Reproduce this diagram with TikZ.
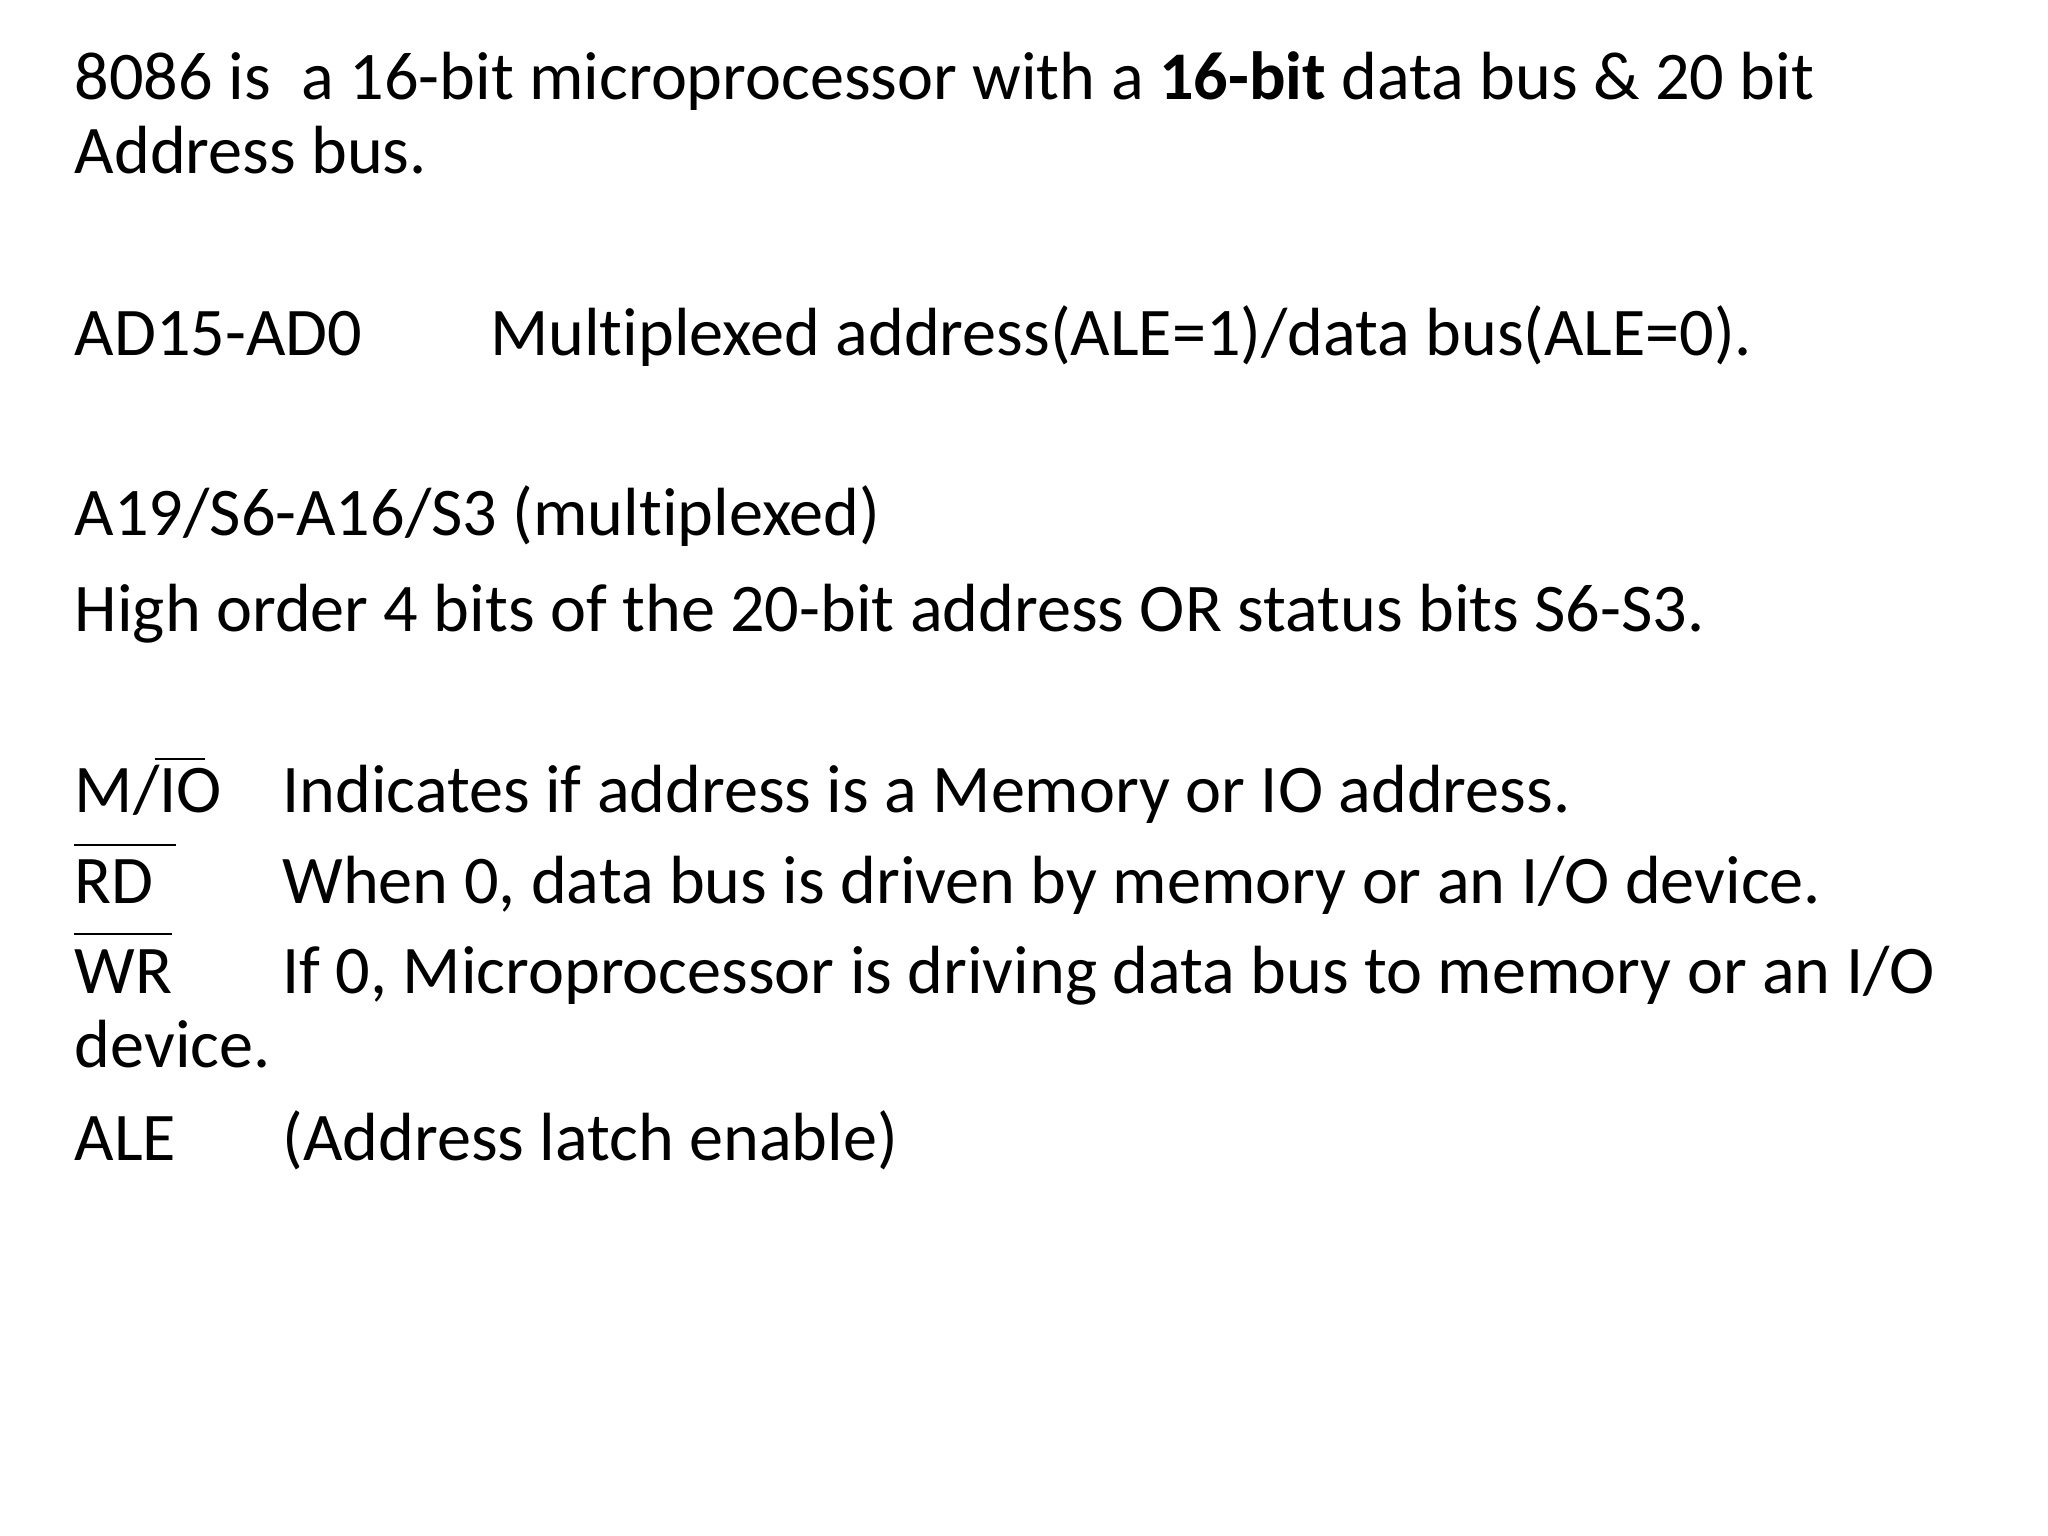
\documentclass[tikz,border=0pt]{standalone}
\usepackage{fontspec}
\setmainfont{Carlito}[RawFeature=-liga]
\begin{document}
\begin{tikzpicture}[x=0.01323cm,y=-0.01323cm,
    txt/.style={anchor=base west,inner sep=0pt,font=\fontsize{19.4}{23}\selectfont},
    bar/.style={line width=0.6pt}]
  \useasboundingbox (0,0) rectangle (1548,1161);
  % heading
  \node[txt] (l1) at (56,75) {8086 is\ \ a 16-bit microprocessor with a \textbf{16-bit} data bus \& 20 bit};
  \node[txt] (l2) at (56,131) {Address bus.};
  % address/data lines
  \node[txt] (ad)  at (56,269) {AD15-AD0};
  \node[txt] (adt) at (370,269) {Multiplexed address(ALE=1)/data bus(ALE=0).};
  \node[txt] (a19) at (56,405) {A19/S6-A16/S3 (multiplexed)};
  \node[txt] (hi)  at (56,477) {High order 4 bits of the 20-bit address OR status bits S6-S3.};
  % control signals
  \node[txt] (mio)  at (56,614) {M/IO};
  \node[txt] (miot) at (213,614) {Indicates if address is a Memory or IO address.};
  \node[txt] (rd)   at (56,683) {RD};
  \node[txt] (rdt)  at (213,683) {When 0, data bus is driven by memory or an I/O device.};
  \node[txt] (wr)   at (56,751) {WR};
  \node[txt] (wrt)  at (213,751) {If 0, Microprocessor is driving data bus to memory or an I/O};
  \node[txt] (dev)  at (56,807) {device.};
  \node[txt] (ale)  at (56,877) {ALE};
  \node[txt] (alet) at (213,877) {(Address latch enable)};
  % active-low bars
  \coordinate (io1) at (117,574);  \coordinate (io2) at (155,574);
  \coordinate (rd1) at (56,639);   \coordinate (rd2) at (133,639);
  \coordinate (wr1) at (56,706);   \coordinate (wr2) at (130,706);
  \draw[bar] (io1) -- (io2);
  \draw[bar] (rd1) -- (rd2);
  \draw[bar] (wr1) -- (wr2);
\end{tikzpicture}
\end{document}
